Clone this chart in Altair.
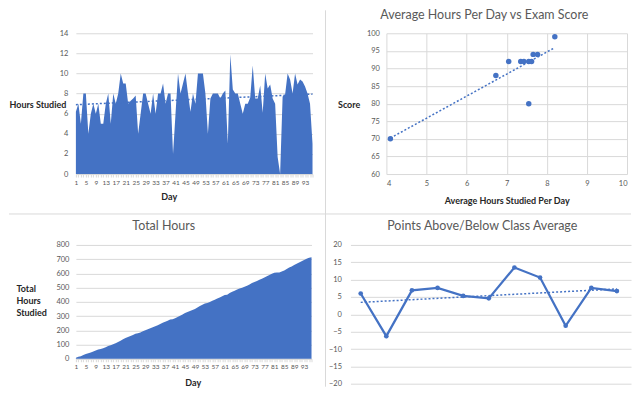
import altair as alt
import pandas as pd

# ---------------- data ----------------
days = list(range(1, 97))
hours = [6.2, 7, 5, 8, 8, 4, 6, 7, 6, 7,
         5, 5, 7, 8, 5, 8, 7, 8, 10, 9,
         9, 7, 7.3, 7.5, 7.8, 4, 6, 8, 8, 7,
         6, 8, 6, 8, 8, 9, 7, 8, 8, 2,
         6, 10, 8, 9, 10, 8, 6.2, 8, 7, 10,
         10, 10, 8, 4, 7.5, 8, 8, 8, 7.5, 8,
         8.3, 3, 11.9, 8.4, 8, 8, 7, 6, 7, 7,
         7.6, 10.8, 7.5, 7.5, 8.8, 6.1, 10, 8.5, 8.9, 7.5,
         7, 1.7, 0, 7.7, 7.9, 10, 9.4, 8, 10, 8.9,
         9.4, 9.2, 8.7, 8, 7, 3]
day_ticks = list(range(1, 97))

avg_hours = [4.1, 6.73, 7.05, 7.35, 7.43, 7.55, 7.62, 7.66, 7.77, 7.55, 8.2]
scores = [70, 88, 92, 92, 92, 92, 92, 94, 94, 80, 99]

test_no = list(range(1, 12))
points_diff = [6, -6.3, 6.9, 7.6, 5.3, 4.6, 13.5, 10.6, -3.3, 7.6, 6.7]

hours_ticks = [0, 2, 4, 6, 8, 10, 12, 14]
avg_ticks = [4, 5, 6, 7, 8, 9, 10]
score_ticks = [60, 65, 70, 75, 80, 85, 90, 95, 100]
total_ticks = [0, 100, 200, 300, 400, 500, 600, 700, 800]
diff_ticks = [-20, -15, -10, -5, 0, 5, 10, 15, 20]

# ---------------- style ----------------
FONT = "Lato"
BLUE = "#4472C4"
GRID = "#D9D9D9"
LABEL = "#595959"
ATITLE = "#262626"
LAB_SIZE = 7.5
DAY_LAB_SIZE = 6.5
AT_SIZE = 9

df_days = pd.DataFrame({"day": days, "hours": hours})
df_scatter = pd.DataFrame({"avg": avg_hours, "score": scores})
df_diff = pd.DataFrame({"test": test_no, "diff": points_diff})
one = pd.DataFrame({"a": [0]})


def day_axis(title_x, title_y):
    return alt.Axis(values=day_ticks,
                    labelExpr="(datum.value - 1) % 4 == 0 ? datum.label : ''",
                    grid=False, domain=True, domainColor=GRID, ticks=True,
                    tickColor=GRID, tickSize=3, labelPadding=2,
                    labelFontSize=DAY_LAB_SIZE, labelColor=LABEL, labelFont=FONT,
                    labelOverlap=False, labelFlush=False,
                    title="Day", titleX=title_x, titleY=title_y,
                    titleFont=FONT, titleFontSize=AT_SIZE, titleFontWeight="bold",
                    titleColor=ATITLE, titleAlign="center", titleBaseline="middle")


def val_axis(values, pad, title=None, tx=0, ty=0, base="middle", offset=0):
    kw = dict(values=values, grid=True, gridColor=GRID, domain=False, ticks=False,
              labelPadding=pad, labelFontSize=LAB_SIZE, labelColor=LABEL,
              labelFont=FONT, labelOverlap=False, offset=offset)
    if title is not None:
        kw.update(title=title, titleAngle=0, titleX=tx, titleY=ty,
                  titleAlign="left", titleBaseline=base, titleFont=FONT,
                  titleFontSize=AT_SIZE, titleFontWeight="bold", titleColor=ATITLE,
                  titleLineHeight=12)
    else:
        kw.update(title=None)
    return alt.Axis(**kw)


def ttl(text, dx):
    return alt.TitleParams(text, font=FONT, fontSize=12.5, color=LABEL,
                           fontWeight="normal", anchor="middle", dx=dx, offset=8,
                           frame="group")


def trend(df, xf, yf, xenc, yenc):
    return alt.Chart(df).transform_regression(xf, yf).mark_line(
        color=BLUE, strokeDash=[2, 2], strokeWidth=1.5).encode(x=xenc, y=yenc)


# ---------------- top-left: hours per day (also carries the panel dividers) ----------------
tl_x = alt.X("day:Q", scale=alt.Scale(domain=[1, 96], nice=False, zero=False),
             axis=day_axis(93, 23))
tl_y = alt.Y("hours:Q", scale=alt.Scale(domain=[0, 14], nice=False),
             axis=val_axis(hours_ticks, 8, "Hours Studied", -67, 71))
tl_area = alt.Chart(df_days).mark_area(color=BLUE, opacity=1).encode(x=tl_x, y=tl_y)
tl_trend = trend(df_days, "day", "hours", tl_x, tl_y)
h_div = alt.Chart(one).mark_rule(color=GRID, strokeWidth=1).encode(
    x=alt.value(-67), x2=alt.value(556), y=alt.value(181))
v_div = alt.Chart(one).mark_rule(color=GRID, strokeWidth=1).encode(
    x=alt.value(250), y=alt.value(-23), y2=alt.value(354))
tl = alt.layer(tl_area, tl_trend, h_div, v_div).properties(width=237, height=141)

# ---------------- top-right: scatter (plot area inset by 36px in its cell) ----------------
tr_x = alt.X("avg:Q", scale=alt.Scale(domain=[4, 10], range=[36, 277], nice=False, zero=False),
             axis=alt.Axis(values=avg_ticks, grid=True, gridColor=GRID,
                           domain=False, ticks=False, labelPadding=5, labelOverlap=False,
                           labelFontSize=LAB_SIZE, labelColor=LABEL, labelFont=FONT,
                           title="Average Hours Studied Per Day", titleY=27,
                           titleBaseline="middle", titleFont=FONT, titleFontSize=AT_SIZE,
                           titleFontWeight="bold", titleColor=ATITLE))
tr_y = alt.Y("score:Q", scale=alt.Scale(domain=[60, 100], nice=False, zero=False),
             axis=val_axis(score_ticks, 7, "Score", -49, 71, offset=-36))
tr_pts = alt.Chart(df_scatter).mark_circle(color=BLUE, size=30, opacity=1).encode(x=tr_x, y=tr_y)
tr_trend = trend(df_scatter, "avg", "score", tr_x, tr_y)
tr = alt.layer(tr_pts, tr_trend).properties(
    width=277, height=141, title=ttl("Average Hours Per Day vs Exam Score", -4.5))

# ---------------- bottom-left: cumulative ----------------
bl = alt.Chart(df_days).transform_window(
    total="sum(hours)", sort=[alt.SortField("day")]
).mark_area(color=BLUE, opacity=1).encode(
    x=alt.X("day:Q", scale=alt.Scale(domain=[1, 96], nice=False, zero=False),
            axis=day_axis(117, 24)),
    y=alt.Y("total:Q", scale=alt.Scale(domain=[0, 800], nice=False),
            axis=val_axis(total_ticks, 7, ["Total", "Hours", "Studied"], -60, 40, "top")),
).properties(width=236, height=114, title=ttl("Total Hours", -30))

# ---------------- bottom-right: line ----------------
br_x = alt.X("test:Q", scale=alt.Scale(domain=[0.6, 11.55], nice=False, zero=False), axis=None)
br_y = alt.Y("diff:Q", scale=alt.Scale(domain=[-20, 20], nice=False, zero=False),
             axis=val_axis(diff_ticks, 9))
br_line = alt.Chart(df_diff).mark_line(
    color=BLUE, strokeWidth=2.25,
    point=alt.OverlayMarkDef(filled=True, size=22, color=BLUE)).encode(x=br_x, y=br_y)
br_trend = trend(df_diff, "test", "diff", br_x, br_y)
br = alt.layer(br_line, br_trend).properties(
    width=281, height=139, title=ttl("Points Above/Below Class Average", -8.5))

chart = alt.concat(tl, tr, bl, br, columns=2).properties(
    spacing={"row": 71, "column": 38}, bounds="flush", padding=0
).configure_view(stroke=None)

chart.save("out.html", embed_options={"renderer": "svg", "actions": False})
